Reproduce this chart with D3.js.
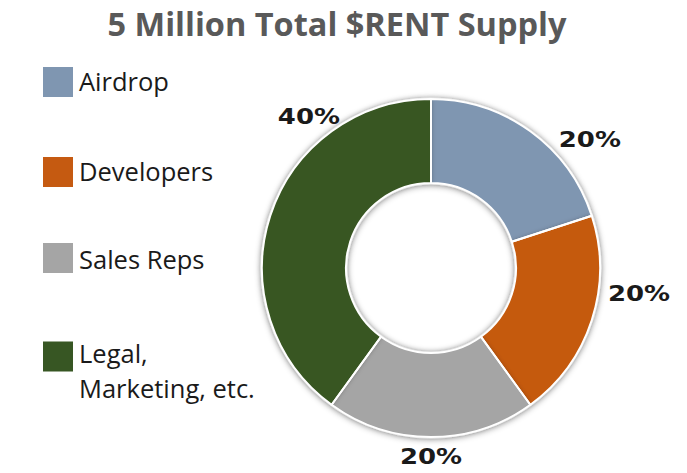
<!DOCTYPE html>
<html><head><meta charset="utf-8">
<script src="https://cdn.jsdelivr.net/npm/d3@7"></script>
<style>html,body{margin:0;padding:0;background:#fff;}</style>
</head><body>
<script>
const categories = ["Airdrop", "Developers", "Sales Reps", "Legal, Marketing, etc."];
const values = [20, 20, 20, 40];
const labels = ["20%", "20%", "20%", "40%"];
const colors = ["#7f96b1", "#c55a11", "#a5a5a5", "#375623"];
const title = "5 Million Total $RENT Supply";

const W = 687, H = 473;
const svg = d3.select("body").append("svg").attr("width", W).attr("height", H);
const defs = svg.append("defs");
const f = defs.append("filter").attr("id", "shadow").attr("x", "-20%").attr("y", "-20%").attr("width", "140%").attr("height", "140%");
f.append("feGaussianBlur").attr("in", "SourceAlpha").attr("stdDeviation", 3).attr("result", "b");
f.append("feOffset").attr("in", "b").attr("dx", 0).attr("dy", 1).attr("result", "o");
f.append("feComponentTransfer").attr("in", "o").attr("result", "s").append("feFuncA").attr("type", "linear").attr("slope", 0.35);
const m = f.append("feMerge"); m.append("feMergeNode").attr("in", "s"); m.append("feMergeNode").attr("in", "SourceGraphic");

const fi = defs.append("filter").attr("id", "inner");
fi.append("feGaussianBlur").attr("in", "SourceAlpha").attr("stdDeviation", 2.5).attr("result", "blur");
fi.append("feComposite").attr("in", "SourceAlpha").attr("in2", "blur").attr("operator", "arithmetic").attr("k2", -1).attr("k3", 1).attr("result", "edge");
fi.append("feFlood").attr("flood-color", "#000").attr("flood-opacity", 0.35);
fi.append("feComposite").attr("in2", "edge").attr("operator", "in").attr("result", "sh");
const mi = fi.append("feMerge"); mi.append("feMergeNode").attr("in", "SourceGraphic"); mi.append("feMergeNode").attr("in", "sh");

svg.append("text").attr("x", 337).attr("y", 36).attr("text-anchor", "middle")
  .attr("font-family", "Open Sans").attr("font-weight", "bold").attr("font-size", 32.5)
  .attr("fill", "#595959").text(title);

const cx = 431, cy = 268, R = 169, r = 85;
const pie = d3.pie().sort(null).value(d => d);
const arcs = pie(values);
const arc = d3.arc().innerRadius(r).outerRadius(R);
const g = svg.append("g").attr("transform", `translate(${cx},${cy})`);
const ring = g.append("g").attr("filter", "url(#shadow)");
ring.append("path").attr("d", d3.arc().innerRadius(r - 1.5).outerRadius(R + 1.5)({startAngle: 0, endAngle: 2 * Math.PI})).attr("fill", "#fff");
ring.selectAll("path.s").data(arcs).join("path").attr("class", "s")
  .attr("d", arc).attr("fill", (d, i) => colors[i]).attr("filter", "url(#inner)");
ring.selectAll("path.b").data(arcs).join("path").attr("class", "b")
  .attr("d", arc).attr("fill", "none").attr("stroke", "#fff").attr("stroke-width", 2);

// label anchor angles (deg, clockwise from top) and radii
const labelAngles = [50.9, 97.0, 180, 321.3];
const labelRadii = [204.7, 209.6, 188.5, 195.3];
g.selectAll("text.l").data(arcs).join("text").attr("class", "l")
  .attr("transform", (d, i) => {
    const a = labelAngles[i] * Math.PI / 180;
    return `translate(${labelRadii[i] * Math.sin(a)},${-labelRadii[i] * Math.cos(a)}) scale(1.18,1)`;
  })
  .attr("dy", "0.36em").attr("text-anchor", "middle")
  .attr("font-family", "DejaVu Sans").attr("font-weight", "bold").attr("font-size", 22)
  .attr("fill", "#1a1a1a").text((d, i) => labels[i]);

// legend
const legY = [82, 172, 258, 356.5];
const legBase = [[91], [181], [269], [363, 398]];
const leg = svg.append("g");
categories.forEach((c, i) => {
  leg.append("rect").attr("x", 43).attr("y", legY[i] - 15).attr("width", 30).attr("height", 30).attr("fill", colors[i]);
  const parts = c === "Legal, Marketing, etc." ? ["Legal,", "Marketing, etc."] : [c];
  const t = leg.append("text").attr("font-family", "Open Sans").attr("font-size", 25.5).attr("fill", "#1a1a1a");
  parts.forEach((p, j) => t.append("tspan").attr("x", 79).attr("y", legBase[i][j]).text(p));
});
</script>
</body></html>
